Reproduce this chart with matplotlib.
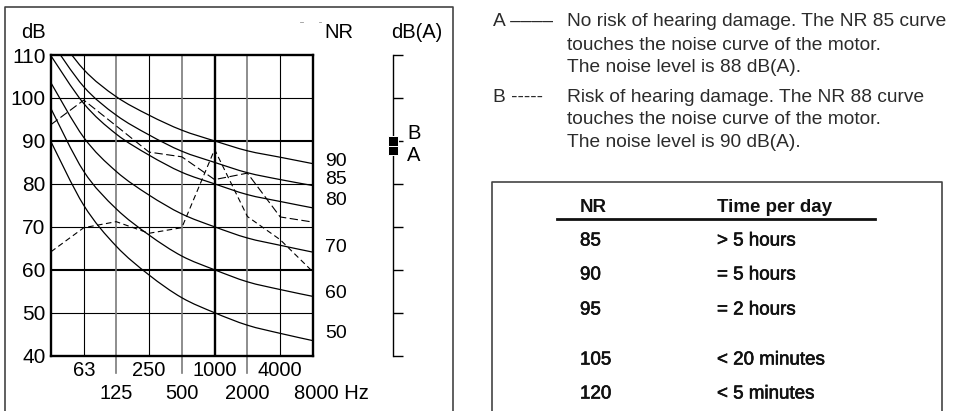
import numpy as np
import matplotlib
matplotlib.use("Agg")
import matplotlib.pyplot as plt
import matplotlib.patheffects as pe
from matplotlib.path import Path
from matplotlib.patches import PathPatch
from matplotlib.transforms import blended_transform_factory

plt.rcParams['font.family'] = ['Liberation Sans', 'DejaVu Sans']
plt.rcParams['lines.scale_dashes'] = False

# ---- data -------------------------------------------------------------
freqs = [31.5, 63, 125, 250, 500, 1000, 2000, 4000, 8000]
top_row_freqs = [63, 250, 1000, 4000]
bottom_row_freqs = [125, 500, 2000]
y_ticks = [40, 50, 60, 70, 80, 90, 100, 110]

nr_levels = [90, 85, 80, 70, 60, 50]
nr90 = [116.6, 106.6, 100.3, 96.0, 92.5, 90.0, 87.7, 86.2, 84.7]
nr85 = [113.2, 102.6, 96.0, 91.4, 87.6, 85.0, 82.6, 81.0, 79.6]
nr80 = [109.8, 98.7, 91.6, 86.7, 82.7, 80.0, 77.5, 75.9, 74.4]
nr70 = [103.5, 90.8, 82.9, 77.4, 73.0, 70.0, 67.4, 65.7, 64.1]
nr60 = [97.5, 82.9, 74.2, 68.1, 63.2, 60.0, 57.2, 55.4, 53.8]
nr50 = [89.8, 75.0, 65.5, 58.8, 53.5, 50.0, 47.1, 45.2, 43.5]
nr_curves = [nr90, nr85, nr80, nr70, nr60, nr50]

motor_a = [93.8, 99.5, 93.5, 87.4, 86.3, 81.0, 82.5, 72.3, 71.1]
motor_b = [64.2, 69.8, 71.2, 68.5, 69.8, 88.0, 72.4, 67.0, 59.5]

dba_a = 88
dba_b = 90

table_nr = ["85", "90", "95", "105", "120"]
table_time = ["> 5 hours", "= 5 hours", "= 2 hours", "< 20 minutes", "< 5 minutes"]

# ---- figure -----------------------------------------------------------
W, H = 958, 411
fig = plt.figure(figsize=(W / 100, H / 100), dpi=100)

def fx(x):
    return x / W

def fy(y):
    return 1 - y / H

# overlay in pixel coordinates for frames and free text
ov = fig.add_axes([0, 0, 1, 1], zorder=-1)
ov.set_xlim(0, W)
ov.set_ylim(H, 0)
ov.axis('off')

# main NR chart
L, R, T, B = 51, 313, 55, 355.7
ax = fig.add_axes([fx(L), fy(B), (R - L) / W, (B - T) / H])
ax.set_xscale('log', base=2)
ax.set_xlim(31.5, 8000)
ax.set_ylim(40, 110)
ax.set_xticks([])
ax.minorticks_off()
ax.set_yticks(y_ticks)
ax.set_yticklabels([str(v) for v in y_ticks], fontsize=15)
ax.tick_params(axis='y', length=0, pad=4)
for s in ax.spines.values():
    s.set_linewidth(1.7)
    s.set_color('black')

# grid
for v in [50, 70, 80, 100]:
    ax.axhline(v, color='black', lw=0.8, zorder=1)
for v in [60, 90]:
    ax.axhline(v, color='black', lw=1.5, zorder=1)
for f in [63, 250, 4000]:
    ax.axvline(f, color='black', lw=0.8, zorder=1)
ax.axvline(1000, color='black', lw=1.7, zorder=1)
ext = -(373 - B) / (B - T)
for f in bottom_row_freqs:
    ax.axvline(f, ymin=ext, ymax=1, color='#7a7a7a', lw=1.2, zorder=1,
               clip_on=False)


def smooth_path(xs, ys):
    u = np.log2(np.asarray(xs, float))
    v = np.asarray(ys, float)
    pts = np.column_stack([u, v])
    ext_pts = np.vstack([pts[0], pts, pts[-1]])
    verts = [pts[0]]
    codes = [Path.MOVETO]
    for i in range(len(pts) - 1):
        p0, p1, p2, p3 = ext_pts[i], ext_pts[i + 1], ext_pts[i + 2], ext_pts[i + 3]
        c1 = p1 + (p2 - p0) / 6
        c2 = p2 - (p3 - p1) / 6
        verts += [c1, c2, p2]
        codes += [Path.CURVE4] * 3
    verts = np.array(verts)
    verts[:, 0] = 2 ** verts[:, 0]
    return Path(verts, codes)


for vals in nr_curves:
    patch = PathPatch(smooth_path(freqs, vals), fill=False, ec='black',
                      lw=0.9, zorder=3)
    ax.add_patch(patch)

ax.plot(freqs, motor_a, color='black', lw=0.8, dashes=(6, 2.5), zorder=4)
ax.plot(freqs, motor_b, color='black', lw=0.8, dashes=(4, 2.5), zorder=4)

# frequency labels in two rows
xb = blended_transform_factory(ax.transData, ax.transAxes)
for f in top_row_freqs:
    ax.annotate(str(f), xy=(f, 0), xycoords=xb, xytext=(0, -10.5),
                textcoords='offset points', ha='center', va='center',
                fontsize=14.5)
for f in bottom_row_freqs:
    ax.annotate(str(f), xy=(f, 0), xycoords=xb, xytext=(0, -27.3),
                textcoords='offset points', ha='center', va='center',
                fontsize=14.5)
ax.annotate("8000 Hz", xy=(8000, 0), xycoords=xb, xytext=(-14, -27.3),
            textcoords='offset points', ha='left', va='center', fontsize=14.5)

# NR curve labels
label_shift = [1.5, 4.5, 5.5, 3.5, 2.2, 5.0]
for lvl, vals, dy in zip(nr_levels, nr_curves, label_shift):
    ax.annotate(str(lvl), xy=(8000, vals[-1]), xytext=(9, dy),
                textcoords='offset points', ha='left', va='center',
                fontsize=14, annotation_clip=False)

ov.text(21, 33, "dB", fontsize=14.5, ha='left', va='center')
ov.text(339, 33, "NR", fontsize=14.5, ha='center', va='center')
ov.text(391, 33, "dB(A)", fontsize=14.5, ha='left', va='center')

# dB(A) scale
axa = fig.add_axes([fx(393), fy(B), 20 / W, (B - T) / H])
axa.set_ylim(40, 110)
axa.set_xlim(0, 1)
for k in ['top', 'right', 'bottom']:
    axa.spines[k].set_visible(False)
axa.spines['left'].set_linewidth(1.0)
axa.set_xticks([])
axa.set_yticks(y_ticks)
axa.set_yticklabels([])
axa.tick_params(axis='y', direction='in', length=7.5, width=1.0)
axa.patch.set_alpha(0)
axa.plot([0, 0], [dba_a, dba_b], 's', color='black', ms=6.6, mec='white',
         mew=0.7, clip_on=False, zorder=5)
axa.annotate("B", xy=(0, dba_b), xytext=(10, 5), textcoords='offset points',
             ha='left', va='center', fontsize=14.5)
axa.annotate("A", xy=(0, dba_a), xytext=(10, -4), textcoords='offset points',
             ha='left', va='center', fontsize=14.5)

# left panel frame (open at the bottom)
frame_c = '#444444'
ov.plot([5, 5, 453, 453], [H + 2, 7, 7, H + 2], color=frame_c, lw=1.2)
ov.plot([300.5, 303.5], [22, 22], color='#999999', lw=0.6)
ov.plot([319.5, 321.5], [22, 22], color='#999999', lw=0.6)

# explanatory text
tc = '#2b2b2b'
fs = 13.8
ov.text(493, 22, "A \u2013\u2013\u2013\u2013", color=tc, fontsize=fs, va='center')
ov.text(493, 97, "B -----", color=tc, fontsize=fs, va='center')
a_lines = ["No risk of hearing damage. The NR 85 curve",
           "touches the noise curve of the motor.",
           "The noise level is 88 dB(A)."]
b_lines = ["Risk of hearing damage. The NR 88 curve",
           "touches the noise curve of the motor.",
           "The noise level is 90 dB(A)."]
for i, s in enumerate(a_lines):
    ov.text(567, 22 + 23 * i, s, color=tc, fontsize=fs, va='center')
for i, s in enumerate(b_lines):
    ov.text(567, 97 + 22.5 * i, s, color=tc, fontsize=fs, va='center')

# exposure table
ov.plot([492, 492, 942, 942], [H + 2, 182, 182, H + 2], color=frame_c, lw=1.2)
ov.text(580, 207, "NR", fontsize=13.5, fontweight='bold', va='center',
        color='#111111')
ov.text(717, 207, "Time per day", fontsize=13.5, fontweight='bold',
        va='center', color='#111111')
ov.plot([557, 875], [218.5, 218.5], color='#111111', lw=2.0)
row_y = [241, 275, 310, 360, 394]
semi = [pe.withStroke(linewidth=0.45, foreground='#111111')]
for y, n, t in zip(row_y, table_nr, table_time):
    ov.text(580, y, n, fontsize=13.5, va='center', color='#111111',
            path_effects=semi)
    ov.text(717, y, t, fontsize=13.5, va='center', color='#111111',
            path_effects=semi)

fig.savefig("out.png", dpi=100)
